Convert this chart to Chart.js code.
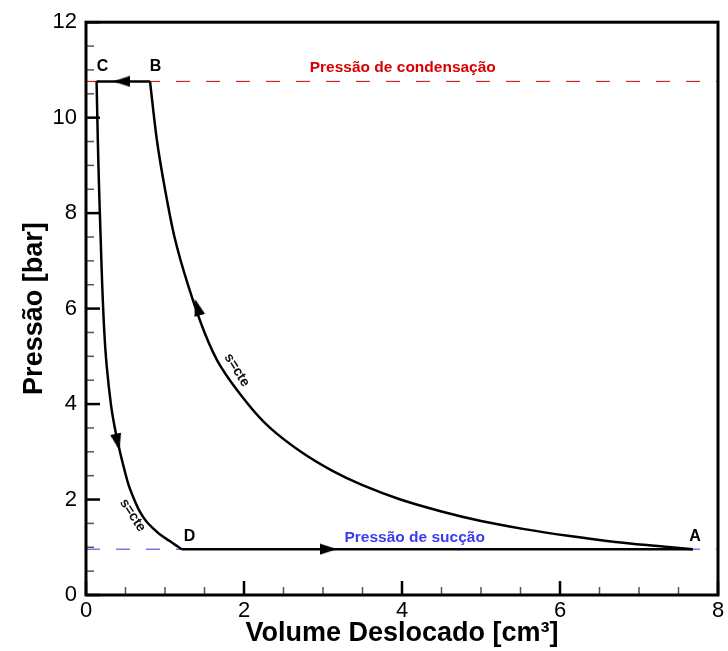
<!DOCTYPE html>
<html>
<head>
<meta charset="utf-8">
<script src="https://cdn.jsdelivr.net/npm/chart.js@4.4.0/dist/chart.umd.min.js"></script>
<style>
html, body { margin: 0; padding: 0; background: #fff; }
#wrap { width: 728px; height: 651px; position: relative; }
</style>
</head>
<body>
<div id="wrap"><canvas id="c"></canvas></div>
<script>
// pressoes de trabalho [bar]
const P_COND = 10.76
const P_SUC = 0.96

// compressao isentropica A -> B
const compPres = [10.76, 9.5, 8.5, 7.5, 6.5, 5.5, 4.8, 4.0, 3.5, 3.0, 2.6, 2.3, 2.0, 1.75, 1.55, 1.38, 1.24, 1.11, 1.03, 0.96]
const compVol = [0.81, 0.90, 1.00, 1.12, 1.29, 1.50, 1.70, 2.05, 2.33, 2.72, 3.12, 3.50, 3.98, 4.50, 5.00, 5.55, 6.10, 6.70, 7.20, 7.68]

// expansao isentropica C -> D
const expPres = [10.76, 9.5, 8.5, 7.5, 6.5, 5.5, 4.8, 4.0, 3.5, 3.0, 2.6, 2.3, 2.0, 1.75, 1.55, 1.38, 1.25, 1.13, 1.04, 0.96]
const expVol = [0.134, 0.150, 0.166, 0.185, 0.205, 0.232, 0.262, 0.315, 0.365, 0.43, 0.49, 0.54, 0.61, 0.68, 0.76, 0.86, 0.95, 1.06, 1.14, 1.21]

// descarga B -> C e admissao D -> A
const dischVol = [0.81, 0.134]
const suctVol = [1.21, 7.68]

// linhas de referencia
const refVol = [0, 8]

// setas (centro, rotacao em graus)
const arrowVol = [0.45, 3.07, 0.40, 1.41]
const arrowPres = [10.76, 0.96, 3.2, 6.03]
const arrowRot = [-90, 90, 167, -16]

// rotulos
const labelText = ['A', 'B', 'C', 'D', 'Pressão de condensação', 'Pressão de sucção', 's=cte', 's=cte']
const labelVol = [7.71, 0.88, 0.21, 1.31, 4.01, 4.16, 1.91, 0.59]
const labelPres = [1.23, 11.07, 11.07, 1.23, 11.05, 1.21, 4.71, 1.67]

// ticks
const xTicks = [0, 2, 4, 6, 8]
const yTicks = [0, 2, 4, 6, 8, 10, 12]

const FONT = "'Liberation Sans', Arial, Helvetica, sans-serif"

function pts(xs, ys) {
    return xs.map((x, i) => ({ x: x, y: ys[i] }))
}

function flat(xs, y) {
    return xs.map(x => ({ x: x, y: y }))
}

// ponta de seta desenhada numa canvas pequena
function arrowHead() {
    let c = document.createElement('canvas')
    c.width = 12
    c.height = 17
    let g = c.getContext('2d')
    g.fillStyle = '#000'
    g.beginPath()
    g.moveTo(6, 0)
    g.lineTo(11.5, 17)
    g.lineTo(0.5, 17)
    g.closePath()
    g.fill()
    return c
}

const labelStyle = [
    { font: 'bold 16px ' + FONT, color: '#000', rot: 0 },
    { font: 'bold 16px ' + FONT, color: '#000', rot: 0 },
    { font: 'bold 16px ' + FONT, color: '#000', rot: 0 },
    { font: 'bold 16px ' + FONT, color: '#000', rot: 0 },
    { font: 'bold 15.5px ' + FONT, color: '#d80000', rot: 0 },
    { font: 'bold 15.5px ' + FONT, color: '#3b3bf0', rot: 0 },
    { font: 'bold 14px ' + FONT, color: '#111', rot: 58 },
    { font: 'bold 14px ' + FONT, color: '#111', rot: 57 }
]

const decor = {
    id: 'decor',
    afterDatasetsDraw(chart) {
        let ctx = chart.ctx
        let xs = chart.scales.x
        let ys = chart.scales.y
        let a = chart.chartArea
        ctx.save()
        for (let i = 0; i < labelText.length; i++) {
            let st = labelStyle[i]
            ctx.save()
            ctx.translate(xs.getPixelForValue(labelVol[i]), ys.getPixelForValue(labelPres[i]))
            ctx.rotate(st.rot * Math.PI / 180)
            ctx.font = st.font
            ctx.fillStyle = st.color
            ctx.textAlign = 'center'
            ctx.textBaseline = 'middle'
            ctx.fillText(labelText[i], 0, 0)
            ctx.restore()
        }

        // ticks para dentro
        ctx.lineCap = 'butt'
        for (let v = 0; v <= 8.001; v += 0.5) {
            let px = xs.getPixelForValue(v)
            let major = xTicks.indexOf(Math.round(v * 10) / 10) >= 0
            ctx.strokeStyle = major ? '#000' : '#555'
            ctx.lineWidth = major ? 2.5 : 1.5
            ctx.beginPath()
            ctx.moveTo(px, a.bottom)
            ctx.lineTo(px, a.bottom - (major ? 14 : 8))
            ctx.stroke()
        }
        for (let v = 0; v <= 12.001; v += 0.5) {
            let py = ys.getPixelForValue(v)
            let major = yTicks.indexOf(Math.round(v * 10) / 10) >= 0
            ctx.strokeStyle = major ? '#000' : '#555'
            ctx.lineWidth = major ? 2.5 : 1.5
            ctx.beginPath()
            ctx.moveTo(a.left, py)
            ctx.lineTo(a.left + (major ? 14 : 8), py)
            ctx.stroke()
        }

        // moldura
        ctx.strokeStyle = '#000'
        ctx.lineWidth = 3
        ctx.strokeRect(a.left, a.top, a.right - a.left, a.bottom - a.top)
        ctx.restore()
    }
}

const ctx = document.getElementById('c').getContext('2d')
const chart = new Chart(ctx, {
    type: 'scatter',
    data: {
        datasets: [
            {
                data: pts(arrowVol, arrowPres),
                pointStyle: arrowHead(),
                rotation: arrowRot,
                pointRadius: 9,
                showLine: false,
                order: 0
            },
            {
                data: pts(compVol, compPres),
                showLine: true, borderColor: '#000', borderWidth: 2.5,
                pointRadius: 0, tension: 0.3,
                order: 1
            },
            {
                data: pts(expVol, expPres),
                showLine: true, borderColor: '#000', borderWidth: 2.5,
                pointRadius: 0, tension: 0.3,
                order: 1
            },
            {
                data: flat(dischVol, P_COND),
                showLine: true, borderColor: '#000', borderWidth: 2.5,
                pointRadius: 0, order: 1
            },
            {
                data: flat(suctVol, P_SUC),
                showLine: true, borderColor: '#000', borderWidth: 2.5,
                pointRadius: 0, order: 1
            },
            {
                data: flat(refVol, P_COND),
                showLine: true, borderColor: '#cc0000', borderWidth: 1,
                borderDash: [14, 16], pointRadius: 0, order: 2
            },
            {
                data: flat(refVol, P_SUC),
                showLine: true, borderColor: '#3434d8', borderWidth: 1,
                borderDash: [14, 16], pointRadius: 0, order: 2
            }
        ]
    },
    options: {
        responsive: true,
        maintainAspectRatio: false,
        animation: false,
        layout: { padding: { top: 16, right: 6, bottom: 0, left: 0 } },
        plugins: { legend: { display: false }, tooltip: { enabled: false } },
        scales: {
            x: {
                type: 'linear', min: 0, max: 8,
                afterFit: s => { s.height = 56 },
                afterBuildTicks: s => { s.ticks = xTicks.map(v => ({ value: v })) },
                grid: { display: false, drawTicks: false },
                border: { display: false },
                ticks: { color: '#000', padding: 3, font: { family: FONT, size: 22 } },
                title: {
                    display: true, text: 'Volume Deslocado [cm³]', color: '#000',
                    padding: { top: 0, bottom: 1 },
                    font: { family: FONT, size: 27, weight: 'bold' }
                }
            },
            y: {
                type: 'linear', min: 0, max: 12,
                afterFit: s => { s.width = 86 },
                afterBuildTicks: s => { s.ticks = yTicks.map(v => ({ value: v })) },
                grid: { display: false, drawTicks: false },
                border: { display: false },
                ticks: { color: '#000', padding: 9, font: { family: FONT, size: 22 } },
                title: {
                    display: true, text: 'Pressão [bar]', color: '#000',
                    padding: { top: 18, bottom: 0 },
                    font: { family: FONT, size: 27, weight: 'bold' }
                }
            }
        }
    },
    plugins: [decor]
})
</script>
</body>
</html>
